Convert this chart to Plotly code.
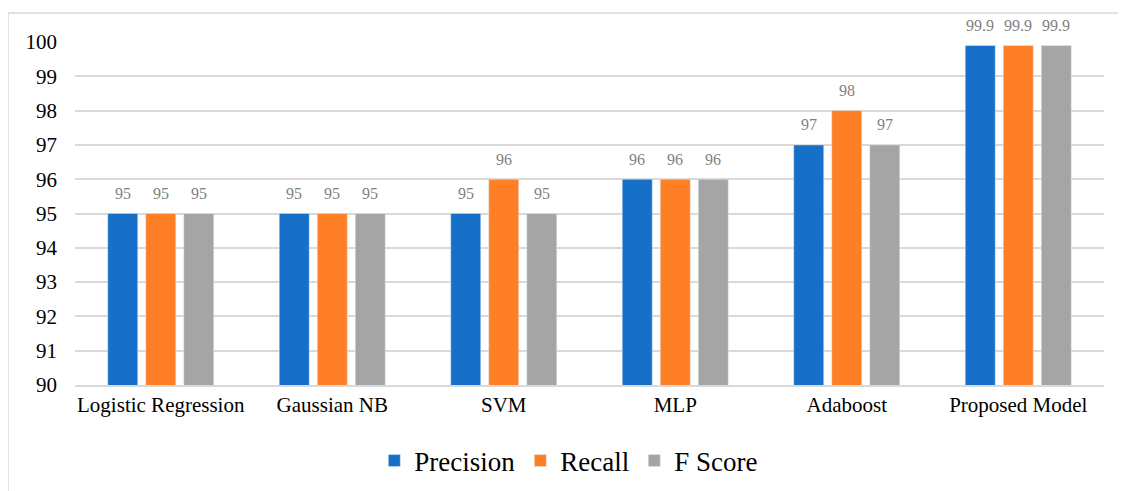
import plotly.graph_objects as go

categories = ["Logistic Regression", "Gaussian NB", "SVM", "MLP", "Adaboost", "Proposed Model"]
precision = [95, 95, 95, 96, 97, 99.9]
recall = [95, 95, 96, 96, 98, 99.9]
fscore = [95, 95, 95, 96, 97, 99.9]
series = [("Precision", precision, "#1770C8"), ("Recall", recall, "#FF7F27"), ("F Score", fscore, "#A5A5A5")]

SERIF = "Liberation Serif, Times New Roman, serif"

OFF = 8  # default page body margin
W, H = 1126 - OFF, 491 - OFF
L, R, T, B = 75 - OFF, 22, 42 - OFF, 106
pw, ph = W - L - R, H - T - B
slot = pw / len(categories) * (1 - 0.335) / 3

fig = go.Figure()
annotations = []
for i, (name, vals, col) in enumerate(series):
    fig.add_trace(go.Bar(x=categories, y=vals, name=name, marker_color=col))
    for c, v in zip(categories, vals):
        annotations.append(dict(x=c, y=v, xref="x", yref="y", text=f"{v:g}", showarrow=False,
                                xshift=(i - 1) * slot, yshift=20, yanchor="middle",
                                font=dict(family=SERIF, size=16, color="#7F7F7F")))


def px(x):
    return (x - OFF - L) / pw


def py(y):
    return (H - B - (y - OFF)) / ph


fig.update_layout(
    width=W, height=H,
    margin=dict(l=L, r=R, t=T, b=B, autoexpand=False),
    paper_bgcolor="white", plot_bgcolor="white",
    barmode="group", bargap=0.335, bargroupgap=0.21,
    font=dict(family=SERIF, color="#000000"),
    showlegend=True,
    legend=dict(orientation="h", x=0.476 + 4 / pw, xanchor="center", y=py(461), yanchor="middle",
                font=dict(family=SERIF, size=27, color="#000000"),
                itemwidth=30, traceorder="normal"),
    xaxis=dict(showgrid=False, showline=True, linecolor="#D9D9D9", linewidth=2,
               ticks="", tickfont=dict(family=SERIF, size=21, color="#000000")),
    yaxis=dict(range=[90, 100], dtick=1, showgrid=True, gridcolor="#D9D9D9", gridwidth=1.5,
               zeroline=False, ticks="", ticklabelstandoff=17,
               tickfont=dict(family=SERIF, size=21, color="#000000")),
    annotations=annotations,
    shapes=[dict(type="rect", xref="paper", yref="paper",
                 x0=px(8), x1=px(1140), y0=py(510), y1=py(13),
                 line=dict(color="#D9D9D9", width=1.5), layer="below")],
)

fig.write_html("out.html")
